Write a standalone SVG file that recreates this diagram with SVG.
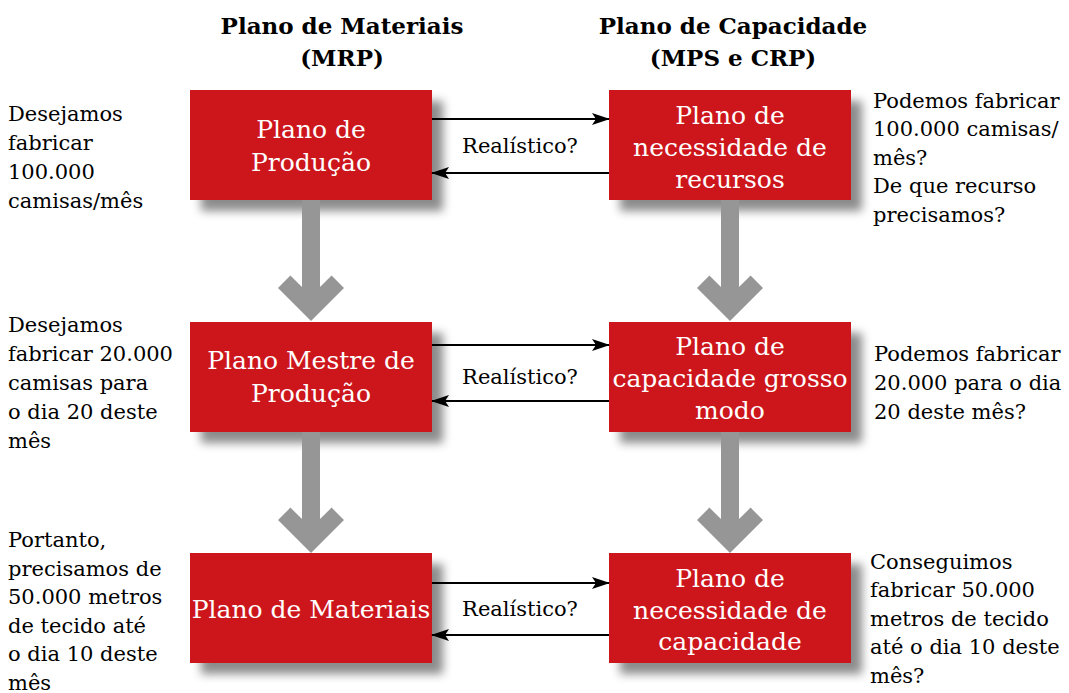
<svg xmlns="http://www.w3.org/2000/svg" xmlns:xlink="http://www.w3.org/1999/xlink" width="1069" height="693" viewBox="0 0 1069 693">
<defs>
<style>
.box{fill:#CD171D;filter:url(#shadow);}
.bt{font-family:"DejaVu Serif","Liberation Serif",serif;font-size:25px;fill:#ffffff;text-anchor:middle;}
.hd{font-family:"DejaVu Serif","Liberation Serif",serif;font-size:23px;font-weight:bold;fill:#000;text-anchor:middle;}
.nt{font-family:"DejaVu Serif","Liberation Serif",serif;font-size:21px;fill:#000;}
.lb{font-family:"DejaVu Serif","Liberation Serif",serif;font-size:21px;fill:#000;text-anchor:middle;}
.ln{stroke:#000;stroke-width:2;fill:none;marker-end:url(#ah);}
.down{fill:#969696;}
</style>
<filter id="shadow" x="-20%" y="-30%" width="150%" height="170%">
<feDropShadow dx="11" dy="11" stdDeviation="5" flood-color="#000" flood-opacity="0.45"/>
</filter>
<marker id="ah" viewBox="0 0 18 12" refX="17" refY="6" markerWidth="18" markerHeight="12" markerUnits="userSpaceOnUse" orient="auto">
<path d="M0,0 L18,6 L0,12 L4,6 Z" fill="#000"/>
</marker>
<path id="downArrow" d="M-9,0 H9 V87 L20.6,75.6 L33,88 L0,121 L-33,88 L-20.6,75.6 L-9,87 Z"/>
</defs>
<rect width="1069" height="693" fill="#ffffff"/>

<g id="headers">
<text class="hd" x="342" y="34">Plano de Materiais</text>
<text class="hd" x="342" y="66">(MRP)</text>
<text class="hd" x="733" y="34">Plano de Capacidade</text>
<text class="hd" x="733" y="66">(MPS e CRP)</text>
</g>

<g id="node-plano-producao">
<rect class="box" x="190" y="90" width="242" height="110"/>
<text class="bt" x="311" y="138">Plano de</text>
<text class="bt" x="311" y="171">Produção</text>
</g>
<g id="node-necessidade-recursos">
<rect class="box" x="609" y="90" width="242" height="110"/>
<text class="bt" x="730" y="124">Plano de</text>
<text class="bt" x="730" y="156">necessidade de</text>
<text class="bt" x="730" y="188">recursos</text>
</g>
<g id="node-plano-mestre">
<rect class="box" x="190" y="322" width="242" height="110"/>
<text class="bt" x="311" y="369">Plano Mestre de</text>
<text class="bt" x="311" y="402">Produção</text>
</g>
<g id="node-capacidade-grosso">
<rect class="box" x="609" y="322" width="242" height="110"/>
<text class="bt" x="730" y="355">Plano de</text>
<text class="bt" x="730" y="387">capacidade grosso</text>
<text class="bt" x="730" y="419">modo</text>
</g>
<g id="node-plano-materiais">
<rect class="box" x="190" y="553" width="242" height="110"/>
<text class="bt" x="311" y="618">Plano de Materiais</text>
</g>
<g id="node-necessidade-capacidade">
<rect class="box" x="609" y="553" width="242" height="110"/>
<text class="bt" x="730" y="587">Plano de</text>
<text class="bt" x="730" y="619">necessidade de</text>
<text class="bt" x="730" y="650">capacidade</text>
</g>

<g id="connectors">
<use href="#downArrow" class="down" transform="translate(311,200)"/>
<use href="#downArrow" class="down" transform="translate(730,200)"/>
<use href="#downArrow" class="down" transform="translate(311,432)"/>
<use href="#downArrow" class="down" transform="translate(730,432)"/>
<line class="ln" x1="432" y1="119" x2="609" y2="119"/>
<line class="ln" x1="609" y1="173" x2="432" y2="173"/>
<line class="ln" x1="432" y1="345" x2="609" y2="345"/>
<line class="ln" x1="609" y1="401" x2="432" y2="401"/>
<line class="ln" x1="432" y1="583" x2="609" y2="583"/>
<line class="ln" x1="609" y1="635" x2="432" y2="635"/>
<text class="lb" x="520" y="153">Realístico?</text>
<text class="lb" x="520" y="384">Realístico?</text>
<text class="lb" x="520" y="616">Realístico?</text>
</g>

<g id="note-left-1">
<text class="nt" x="8" y="121">Desejamos</text>
<text class="nt" x="8" y="150">fabricar</text>
<text class="nt" x="8" y="179">100.000</text>
<text class="nt" x="8" y="208">camisas/mês</text>
</g>
<g id="note-left-2">
<text class="nt" x="8" y="332">Desejamos</text>
<text class="nt" x="8" y="361">fabricar 20.000</text>
<text class="nt" x="8" y="390">camisas para</text>
<text class="nt" x="8" y="419">o dia 20 deste</text>
<text class="nt" x="8" y="448">mês</text>
</g>
<g id="note-left-3">
<text class="nt" x="8" y="547">Portanto,</text>
<text class="nt" x="8" y="576">precisamos de</text>
<text class="nt" x="8" y="604">50.000 metros</text>
<text class="nt" x="8" y="633">de tecido até</text>
<text class="nt" x="8" y="661">o dia 10 deste</text>
<text class="nt" x="8" y="690">mês</text>
</g>
<g id="note-right-1">
<text class="nt" x="873" y="108">Podemos fabricar</text>
<text class="nt" x="873" y="136">100.000 camisas/</text>
<text class="nt" x="873" y="165">mês?</text>
<text class="nt" x="873" y="193">De que recurso</text>
<text class="nt" x="873" y="222">precisamos?</text>
</g>
<g id="note-right-2">
<text class="nt" x="874" y="361">Podemos fabricar</text>
<text class="nt" x="874" y="390">20.000 para o dia</text>
<text class="nt" x="874" y="419">20 deste mês?</text>
</g>
<g id="note-right-3">
<text class="nt" x="870" y="569">Conseguimos</text>
<text class="nt" x="870" y="597">fabricar 50.000</text>
<text class="nt" x="870" y="626">metros de tecido</text>
<text class="nt" x="870" y="654">até o dia 10 deste</text>
<text class="nt" x="870" y="683">mês?</text>
</g>
</svg>
